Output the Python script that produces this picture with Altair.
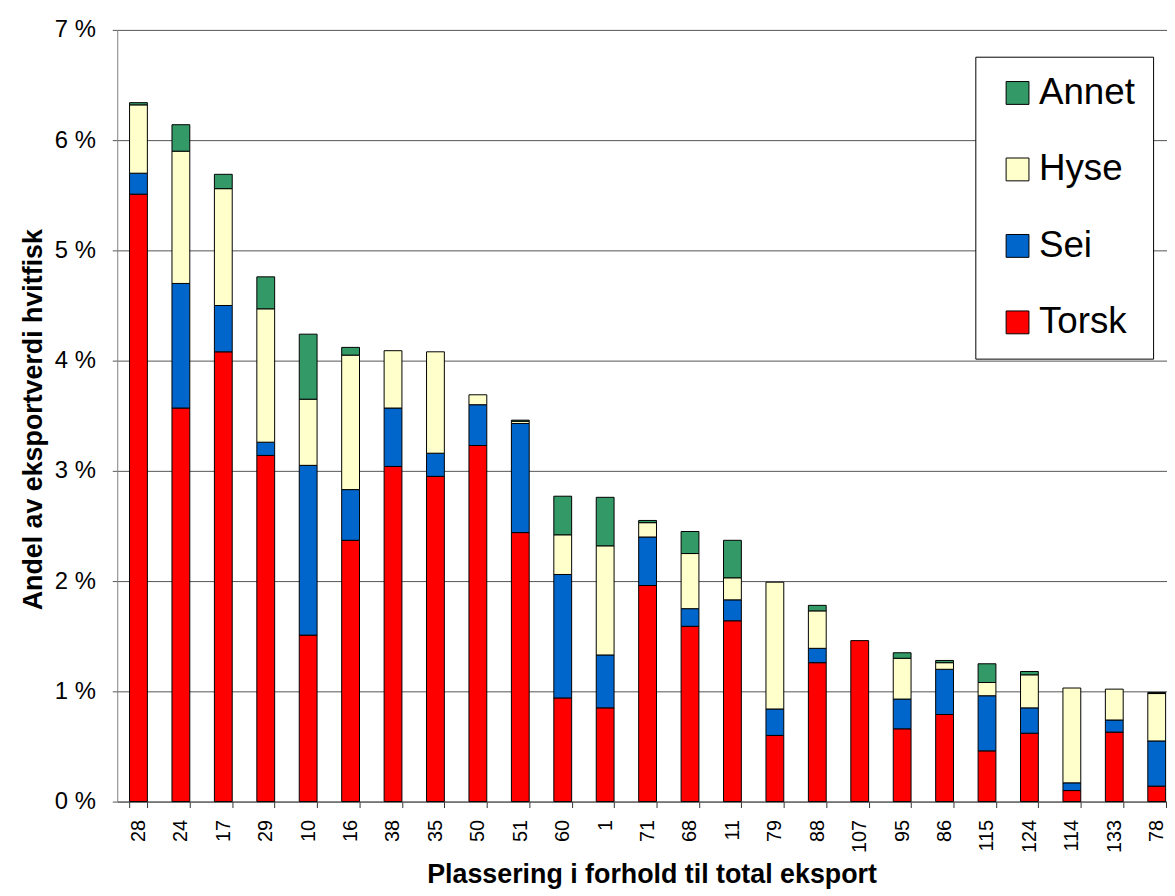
import altair as alt
import pandas as pd

cats = ["28", "24", "17", "29", "10", "16", "38", "35", "50", "51", "60", "1", "71",
        "68", "11", "79", "88", "107", "95", "86", "115", "124", "114", "133", "78"]
torsk = [5.51, 3.57, 4.08, 3.14, 1.51, 2.37, 3.04, 2.95, 3.23, 2.44, 0.94, 0.85, 1.96,
         1.59, 1.64, 0.60, 1.26, 1.46, 0.66, 0.79, 0.46, 0.62, 0.10, 0.63, 0.14]
sei = [0.19, 1.13, 0.42, 0.12, 1.54, 0.46, 0.53, 0.21, 0.37, 0.99, 1.12, 0.48, 0.44,
       0.16, 0.19, 0.24, 0.13, 0.00, 0.27, 0.41, 0.50, 0.23, 0.07, 0.11, 0.41]
hyse = [0.62, 1.20, 1.06, 1.21, 0.60, 1.22, 0.52, 0.92, 0.09, 0.02, 0.36, 0.99, 0.13,
        0.50, 0.20, 1.15, 0.34, 0.00, 0.37, 0.06, 0.12, 0.30, 0.86, 0.28, 0.43]
annet = [0.02, 0.24, 0.13, 0.29, 0.59, 0.07, 0.00, 0.00, 0.00, 0.01, 0.35, 0.44, 0.02,
         0.20, 0.34, 0.00, 0.05, 0.00, 0.05, 0.02, 0.17, 0.03, 0.00, 0.00, 0.01]

series_names = ["Torsk", "Sei", "Hyse", "Annet"]
series_values = [torsk, sei, hyse, annet]
legend_order = ["Annet", "Hyse", "Sei", "Torsk"]
legend_colors = ["#339966", "#FFFFCC", "#0066CC", "#FF0000"]
y_ticks = [0, 1, 2, 3, 4, 5, 6, 7]

rows = []
for o, (name, vals) in enumerate(zip(series_names, series_values)):
    for c, v in zip(cats, vals):
        if v > 0:
            rows.append({"Plassering": c, "Art": name, "Andel": v, "ord": o})
df = pd.DataFrame(rows)

chart = alt.Chart(df).mark_bar(stroke="black", strokeWidth=1).encode(
    x=alt.X(
        "Plassering:N",
        sort=cats,
        scale=alt.Scale(paddingInner=0.58, paddingOuter=0.29),
        axis=alt.Axis(
            title="Plassering i forhold til total eksport",
            labelAngle=-90,
            labelFontSize=20,
            labelPadding=12,
            labelColor="black",
            tickBand="extent",
            tickSize=6,
            tickColor="#333333",
            domainColor="#555555",
            titleFontSize=27,
            titleFontWeight="bold",
            titleColor="black",
            titleX=538,
            titleY=73,
            titleBaseline="middle",
        ),
    ),
    y=alt.Y(
        "Andel:Q",
        stack="zero",
        scale=alt.Scale(domain=[0, 7], nice=False),
        axis=alt.Axis(
            title="Andel av eksportverdi hvitfisk",
            values=y_ticks,
            labelExpr="datum.value + ' %'",
            labelFontSize=24,
            labelPadding=17,
            labelColor="black",
            tickSize=5,
            tickColor="#555555",
            domainColor="#808080",
            gridColor="#555555",
            gridWidth=1,
            titleFontSize=27,
            titleFontWeight="bold",
            titleColor="black",
            titleX=-84,
            titleY=392,
            titleBaseline="middle",
        ),
    ),
    color=alt.Color(
        "Art:N",
        scale=alt.Scale(domain=legend_order, range=legend_colors),
        legend=alt.Legend(
            orient="none",
            legendX=864,
            legendY=27,
            title=None,
            symbolType="square",
            symbolSize=529,
            symbolStrokeColor="black",
            symbolStrokeWidth=1,
            labelFontSize=37,
            labelColor="black",
            labelOffset=3,
            labelExpr="datum.label + '\u2002'",
            symbolOffset=6,
            rowPadding=39,
            padding=18,
            fillColor="white",
            strokeColor="black",
        ),
    ),
    order=alt.Order("ord:Q", sort="ascending"),
).properties(
    width=1068,
    height=777,
    padding={"left": 110, "top": 19, "right": -11, "bottom": 88},
    autosize=alt.AutoSizeParams(type="none"),
).configure(
    font="Liberation Sans",
).configure_view(
    stroke=None,
)

chart.save("out.html", embed_options={"renderer": "svg", "actions": False})
